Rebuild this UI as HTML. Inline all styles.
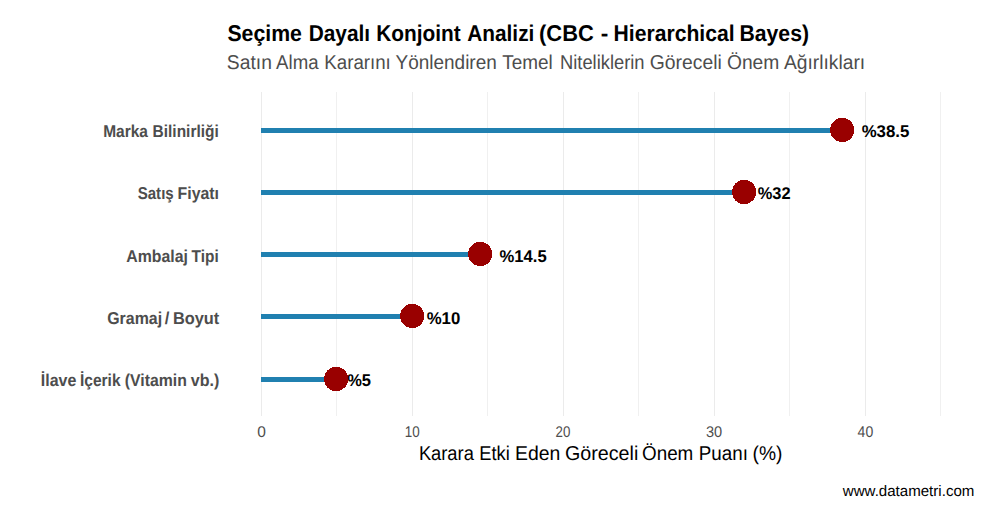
<!DOCTYPE html>
<html><head><meta charset="utf-8">
<style>
html,body{margin:0;padding:0;background:#fff;}
body{width:987px;height:509px;overflow:hidden;font-family:"Liberation Sans",sans-serif;}
svg{display:block;}
text{font-family:"Liberation Sans",sans-serif;text-rendering:geometricPrecision;}
</style></head><body>
<svg width="987" height="509" viewBox="0 0 987 509">
<rect width="987" height="509" fill="#fff"/>
<!-- gridlines -->
<g stroke="#ebebeb" stroke-width="1" shape-rendering="crispEdges">
<line x1="261.5" y1="92" x2="261.5" y2="416"/>
<line x1="336.5" y1="92" x2="336.5" y2="416" stroke="#f0f0f0"/>
<line x1="412.5" y1="92" x2="412.5" y2="416"/>
<line x1="487.5" y1="92" x2="487.5" y2="416" stroke="#f0f0f0"/>
<line x1="563.5" y1="92" x2="563.5" y2="416"/>
<line x1="638.5" y1="92" x2="638.5" y2="416" stroke="#f0f0f0"/>
<line x1="714.5" y1="92" x2="714.5" y2="416"/>
<line x1="789.5" y1="92" x2="789.5" y2="416" stroke="#f0f0f0"/>
<line x1="865.5" y1="92" x2="865.5" y2="416"/>
<line x1="940.5" y1="92" x2="940.5" y2="416" stroke="#f0f0f0"/>
</g>
<!-- segments -->
<g stroke="#2080b0" stroke-width="5">
<line x1="261" y1="130.5" x2="842" y2="130.5"/>
<line x1="261" y1="192.5" x2="744" y2="192.5"/>
<line x1="261" y1="254.5" x2="480" y2="254.5"/>
<line x1="261" y1="316.5" x2="412" y2="316.5"/>
<line x1="261" y1="379.5" x2="336.5" y2="379.5"/>
</g>
<g fill="#990000" shape-rendering="crispEdges">
<circle cx="842.2" cy="130" r="12.1"/>
<circle cx="744.1" cy="192" r="12.1"/>
<circle cx="480.2" cy="254" r="12.1"/>
<circle cx="412.2" cy="316" r="12.1"/>
<circle cx="336.1" cy="379" r="12.1"/>
</g>
<text x="227.44" y="41" font-size="22.8" font-weight="bold" fill="#000" textLength="74.51" lengthAdjust="spacingAndGlyphs">Seçime</text>
<text x="308.64" y="41" font-size="22.8" font-weight="bold" fill="#000" textLength="61.49" lengthAdjust="spacingAndGlyphs">Dayalı</text>
<text x="376.17" y="41" font-size="22.8" font-weight="bold" fill="#000" textLength="84.45" lengthAdjust="spacingAndGlyphs">Konjoint</text>
<text x="467.23" y="41" font-size="22.8" font-weight="bold" fill="#000" textLength="67.11" lengthAdjust="spacingAndGlyphs">Analizi</text>
<text x="539.09" y="41" font-size="22.8" font-weight="bold" fill="#000" textLength="54.76" lengthAdjust="spacingAndGlyphs">(CBC</text>
<text x="600.81" y="41" font-size="22.8" font-weight="bold" fill="#000">-</text>
<text x="613.60" y="41" font-size="22.8" font-weight="bold" fill="#000" textLength="120.98" lengthAdjust="spacingAndGlyphs">Hierarchical</text>
<text x="739.46" y="41" font-size="22.8" font-weight="bold" fill="#000" textLength="69.53" lengthAdjust="spacingAndGlyphs">Bayes)</text>
<text x="226.85" y="69" font-size="20.0" font-weight="normal" fill="#4d4d4d" textLength="45.03" lengthAdjust="spacingAndGlyphs">Satın</text>
<text x="276.07" y="69" font-size="20.0" font-weight="normal" fill="#4d4d4d" textLength="42.45" lengthAdjust="spacingAndGlyphs">Alma</text>
<text x="324.31" y="69" font-size="20.0" font-weight="normal" fill="#4d4d4d" textLength="66.52" lengthAdjust="spacingAndGlyphs">Kararını</text>
<text x="395.57" y="69" font-size="20.0" font-weight="normal" fill="#4d4d4d" textLength="101.19" lengthAdjust="spacingAndGlyphs">Yönlendiren</text>
<text x="502.19" y="69" font-size="20.0" font-weight="normal" fill="#4d4d4d" textLength="50.47" lengthAdjust="spacingAndGlyphs">Temel</text>
<text x="559.99" y="69" font-size="20.0" font-weight="normal" fill="#4d4d4d" textLength="84.57" lengthAdjust="spacingAndGlyphs">Niteliklerin</text>
<text x="649.73" y="69" font-size="20.0" font-weight="normal" fill="#4d4d4d" textLength="72.03" lengthAdjust="spacingAndGlyphs">Göreceli</text>
<text x="726.95" y="69" font-size="20.0" font-weight="normal" fill="#4d4d4d" textLength="52.42" lengthAdjust="spacingAndGlyphs">Önem</text>
<text x="784.05" y="69" font-size="20.0" font-weight="normal" fill="#4d4d4d" textLength="81.10" lengthAdjust="spacingAndGlyphs">Ağırlıkları</text>
<text x="103.19" y="137" font-size="17.1" font-weight="bold" fill="#4d4d4d" textLength="44.81" lengthAdjust="spacingAndGlyphs">Marka</text>
<text x="152.58" y="137" font-size="17.1" font-weight="bold" fill="#4d4d4d" textLength="66.17" lengthAdjust="spacingAndGlyphs">Bilinirliği</text>
<text x="137.67" y="199" font-size="17.1" font-weight="bold" fill="#4d4d4d" textLength="36.05" lengthAdjust="spacingAndGlyphs">Satış</text>
<text x="177.55" y="199" font-size="17.1" font-weight="bold" fill="#4d4d4d" textLength="41.48" lengthAdjust="spacingAndGlyphs">Fiyatı</text>
<text x="126.33" y="262" font-size="17.1" font-weight="bold" fill="#4d4d4d" textLength="61.65" lengthAdjust="spacingAndGlyphs">Ambalaj</text>
<text x="191.57" y="262" font-size="17.1" font-weight="bold" fill="#4d4d4d" textLength="27.15" lengthAdjust="spacingAndGlyphs">Tipi</text>
<text x="107.22" y="324" font-size="17.1" font-weight="bold" fill="#4d4d4d" textLength="54.91" lengthAdjust="spacingAndGlyphs">Gramaj</text>
<text x="172.94" y="324" font-size="17.1" font-weight="bold" fill="#4d4d4d" textLength="46.40" lengthAdjust="spacingAndGlyphs">Boyut</text>
<text x="40.81" y="386" font-size="17.1" font-weight="bold" fill="#4d4d4d" textLength="35.51" lengthAdjust="spacingAndGlyphs">İlave</text>
<text x="79.96" y="386" font-size="17.1" font-weight="bold" fill="#4d4d4d" textLength="40.57" lengthAdjust="spacingAndGlyphs">İçerik</text>
<text x="124.80" y="386" font-size="17.1" font-weight="bold" fill="#4d4d4d" textLength="62.02" lengthAdjust="spacingAndGlyphs">(Vitamin</text>
<text x="190.82" y="386" font-size="17.1" font-weight="bold" fill="#4d4d4d" textLength="28.51" lengthAdjust="spacingAndGlyphs">vb.)</text>
<text x="164.63" y="324" font-size="17.1" font-weight="bold" fill="#4d4d4d" textLength="4.62" lengthAdjust="spacingAndGlyphs">/</text>
<text x="861.63" y="137" font-size="17" font-weight="bold" fill="#000" textLength="47.68" lengthAdjust="spacingAndGlyphs">%38.5</text>
<text x="757.74" y="199" font-size="17" font-weight="bold" fill="#000" textLength="32.86" lengthAdjust="spacingAndGlyphs">%32</text>
<text x="499.56" y="262" font-size="17" font-weight="bold" fill="#000" textLength="47.19" lengthAdjust="spacingAndGlyphs">%14.5</text>
<text x="426.66" y="324" font-size="17" font-weight="bold" fill="#000" textLength="33.61" lengthAdjust="spacingAndGlyphs">%10</text>
<text x="347.14" y="386" font-size="17" font-weight="bold" fill="#000" textLength="23.85" lengthAdjust="spacingAndGlyphs">%5</text>
<text x="257.15" y="437" font-size="15.5" font-weight="normal" fill="#4d4d4d">0</text>
<text x="404.70" y="437" font-size="15.5" font-weight="normal" fill="#4d4d4d" textLength="14.93" lengthAdjust="spacingAndGlyphs">10</text>
<text x="555.59" y="437" font-size="15.5" font-weight="normal" fill="#4d4d4d" textLength="14.81" lengthAdjust="spacingAndGlyphs">20</text>
<text x="706.01" y="437" font-size="15.5" font-weight="normal" fill="#4d4d4d" textLength="16.22" lengthAdjust="spacingAndGlyphs">30</text>
<text x="857.62" y="437" font-size="15.5" font-weight="normal" fill="#4d4d4d" textLength="15.61" lengthAdjust="spacingAndGlyphs">40</text>
<text x="418.89" y="460" font-size="20.0" font-weight="normal" fill="#000" textLength="54.96" lengthAdjust="spacingAndGlyphs">Karara</text>
<text x="479.32" y="460" font-size="20.0" font-weight="normal" fill="#000" textLength="30.54" lengthAdjust="spacingAndGlyphs">Etki</text>
<text x="515.00" y="460" font-size="20.0" font-weight="normal" fill="#000" textLength="45.32" lengthAdjust="spacingAndGlyphs">Eden</text>
<text x="565.03" y="460" font-size="20.0" font-weight="normal" fill="#000" textLength="73.31" lengthAdjust="spacingAndGlyphs">Göreceli</text>
<text x="642.03" y="460" font-size="20.0" font-weight="normal" fill="#000" textLength="51.29" lengthAdjust="spacingAndGlyphs">Önem</text>
<text x="698.81" y="460" font-size="20.0" font-weight="normal" fill="#000" textLength="49.05" lengthAdjust="spacingAndGlyphs">Puanı</text>
<text x="752.62" y="460" font-size="20.0" font-weight="normal" fill="#000" textLength="29.92" lengthAdjust="spacingAndGlyphs">(%)</text>
<text x="842.81" y="496" font-size="15.2" font-weight="normal" fill="#000" textLength="131.58" lengthAdjust="spacingAndGlyphs">www.datametri.com</text>
</svg>
</body></html>
